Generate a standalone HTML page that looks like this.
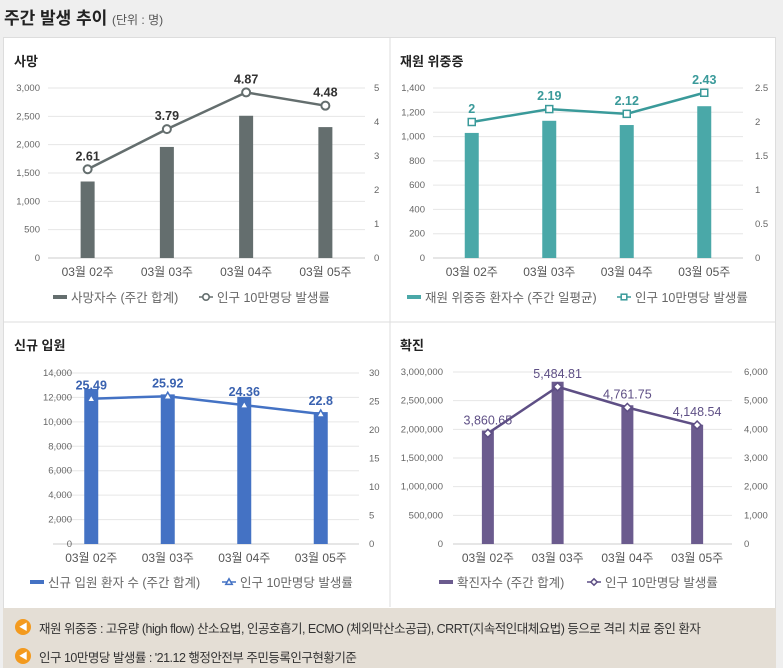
<!DOCTYPE html>
<html><head><meta charset="utf-8">
<style>
body{margin:0;width:783px;height:663px;overflow:hidden;background:#efefef;font-family:"Liberation Sans","Noto Sans CJK KR",sans-serif;position:relative}
.t{position:absolute;left:4px;top:4px;font-size:17px;font-weight:bold;color:#222}
.t span{font-size:12px;font-weight:normal;color:#555}
.box{position:absolute;left:3px;top:37px;width:771px;height:570px;background:#fff;border:1px solid #ddd}
.note{position:absolute;left:3px;top:608px;width:773px;height:60px;background:#e4ded5;font-size:12.5px;color:#333;letter-spacing:-0.5px}
.ic{position:absolute;left:12px;width:16px;height:16px;border-radius:50%;background:#f39a1e;color:#fff;font-size:9px;text-align:center;line-height:16px}
svg text{font-family:"Liberation Sans","Noto Sans CJK KR",sans-serif}
</style></head><body>
<div class="t">주간 발생 추이 <span>(단위 : 명)</span></div>
<div class="box"></div>
<svg id="s" width="783" height="663" style="position:absolute;left:0;top:0"></svg>
<div class="note">
<div class="ic" style="top:11px">◀</div>
<div style="position:absolute;left:36px;top:10px">재원 위중증 : 고유량 (high flow) 산소요법, 인공호흡기, ECMO (체외막산소공급), CRRT(지속적인대체요법) 등으로 격리 치료 중인 환자</div>
<div class="ic" style="top:40px">◀</div>
<div style="position:absolute;left:36px;top:39px">인구 10만명당 발생률 : '21.12 행정안전부 주민등록인구현황기준</div>
</div>
<script>
const categories=["03월 02주","03월 03주","03월 04주","03월 05주"];
const deathBars=[1350,1960,2510,2310];
const deathRate=[2.61,3.79,4.87,4.48];
const deathRateLabels=["2.61","3.79","4.87","4.48"];
const icuBars=[1030,1130,1095,1250];
const icuRate=[2,2.19,2.12,2.43];
const icuRateLabels=["2","2.19","2.12","2.43"];
const admBars=[12700,12250,12050,10800];
const admRate=[25.49,25.92,24.36,22.8];
const admRateLabels=["25.49","25.92","24.36","22.8"];
const caseBars=[1980000,2830000,2420000,2080000];
const caseRate=[3860.65,5484.81,4761.75,4148.54];
const caseRateLabels=["3,860.65","5,484.81","4,761.75","4,148.54"];
const deathLeftTicks=[0,500,1000,1500,2000,2500,3000];
const deathRightTicks=[0,1,2,3,4,5];
const icuLeftTicks=[0,200,400,600,800,1000,1200,1400];
const icuRightTicks=[0,0.5,1,1.5,2,2.5];
const admLeftTicks=[0,2000,4000,6000,8000,10000,12000,14000];
const admRightTicks=[0,5,10,15,20,25,30];
const caseLeftTicks=[0,500000,1000000,1500000,2000000,2500000,3000000];
const caseRightTicks=[0,1000,2000,3000,4000,5000,6000];
const NS="http://www.w3.org/2000/svg";
const svg=document.getElementById('s');
function mk(tag,attrs,parent){const e=document.createElementNS(NS,tag);for(const k in attrs)e.setAttribute(k,attrs[k]);(parent||svg).appendChild(e);return e;}
function fmt(v){return v.toLocaleString('en-US');}
mk('line',{x1:390,y1:38,x2:390,y2:607,stroke:'#ddd'});
mk('line',{x1:4,y1:322,x2:775,y2:322,stroke:'#ddd'});
function marker(type,x,y,c,g,s){
  s=s||1;
  if(type==='circle')return mk('circle',{cx:x,cy:y,r:4*s,fill:'#fff',stroke:c,'stroke-width':2*s},g);
  if(type==='square')return mk('rect',{x:x-3.5*s,y:y-3.5*s,width:7*s,height:7*s,fill:'#fff',stroke:c,'stroke-width':1.5},g);
  if(type==='tri')return mk('polygon',{points:`${x},${y-4*s} ${x-4*s},${y+3*s} ${x+4*s},${y+3*s}`,fill:'#fff',stroke:c,'stroke-width':1.5},g);
  return mk('polygon',{points:`${x},${y-4*s} ${x+4*s},${y} ${x},${y+4*s} ${x-4*s},${y}`,fill:'#fff',stroke:c,'stroke-width':1.5},g);
}
function chart(o){
  const g=mk('g',{});
  
  
  const t=mk('text',{x:o.tx,y:o.ty,'font-size':13,'font-weight':'bold',fill:'#222'},g);t.textContent=o.title;
  
  const lmax=o.lt[o.lt.length-1],rmax=o.rt[o.rt.length-1];
  const yL=v=>o.y0-(v/lmax)*(o.y0-o.y1);
  const yR=v=>o.y0-(v/rmax)*(o.y0-o.y1);
  const step=(o.px2-o.px1)/categories.length;
  const xC=i=>o.px1+step*(i+0.5);
  o.lt.forEach(v=>{
    mk('line',{x1:o.px1,x2:o.px2,y1:yL(v),y2:yL(v),stroke:v?'#e6e6e6':'#ccc'},g);
    const tt=mk('text',{x:o.lx,y:yL(v)+3,'font-size':9.5,fill:'#666','text-anchor':'end'},g);tt.textContent=fmt(v);
    
  });
  o.rt.forEach(v=>{const tt=mk('text',{x:o.rx,y:yR(v)+3,'font-size':9.5,fill:'#666'},g);tt.textContent=fmt(v);
    });
  categories.forEach((c,i)=>{const tt=mk('text',{x:xC(i),y:o.y0+18,'font-size':12,fill:'#555','text-anchor':'middle'},g);tt.textContent=c;
    });
  o.bars.forEach((v,i)=>{const r=mk('rect',{x:xC(i)-o.bw/2,y:yL(v),width:o.bw,height:o.y0-yL(v),fill:o.color},g);
    });
  const pts=o.rate.map((v,i)=>xC(i)+','+yR(v)).join(' ');
  mk('polyline',{points:pts,fill:'none',stroke:o.lc,'stroke-width':2.5},g);
  o.rate.forEach((v,i)=>{
    const m=marker(o.mk,xC(i),yR(v),o.lc,g);
    
    const tt=mk('text',{x:xC(i),y:yR(v)-9,'font-size':12.5,'font-weight':o.lblBold?'bold':'normal',fill:o.lblc,'text-anchor':'middle'},g);tt.textContent=o.labels[i];
    
  });
  const ly=o.ly;
  const lg=mk('g',{},g);
  mk('rect',{x:o.lgx,y:ly-3,width:14,height:4,fill:o.color},lg);
  const a=mk('text',{x:o.lgx+18,y:ly+4,'font-size':12.5,fill:'#666'},lg);a.textContent=o.lg1;
  const w=o.lg2x;
  mk('line',{x1:w,x2:w+14,y1:ly-1,y2:ly-1,stroke:o.lc,'stroke-width':1.5},lg);
  marker(o.mk,w+7,ly-1,o.lc,lg,0.8);
  const b=mk('text',{x:w+18,y:ly+4,'font-size':12.5,fill:'#666'},lg);b.textContent='인구 10만명당 발생률';
}
chart({name:'death-chart',title:'사망',tx:14,ty:66,lt:deathLeftTicks,rt:deathRightTicks,y0:258,y1:88,px1:48,px2:365,lx:40,rx:374,bars:deathBars,rate:deathRate,labels:deathRateLabels,bw:14,color:'#646e6e',lc:'#646e6e',lblc:'#333',lblBold:true,mk:'circle',ly:298,lgx:53,lg1:'사망자수 (주간 합계)',lg2x:199});
chart({name:'icu-chart',title:'재원 위중증',tx:400,ty:66,lt:icuLeftTicks,rt:icuRightTicks,y0:258,y1:88,px1:433,px2:743,lx:425,rx:755,bars:icuBars,rate:icuRate,labels:icuRateLabels,bw:14,color:'#4aa8a8',lc:'#3a9a9a',lblc:'#3a9a9a',lblBold:true,mk:'square',ly:298,lgx:407,lg1:'재원 위중증 환자수 (주간 일평균)',lg2x:617});
chart({name:'admission-chart',title:'신규 입원',tx:14,ty:350,lt:admLeftTicks,rt:admRightTicks,y0:544,y1:373,px1:53,px2:359,lx:72,rx:369,bars:admBars,rate:admRate,labels:admRateLabels,bw:14,color:'#4472c4',lc:'#4472c4',lblc:'#3a62b0',lblBold:true,mk:'tri',ly:583,lgx:30,lg1:'신규 입원 환자 수 (주간 합계)',lg2x:222});
chart({name:'cases-chart',title:'확진',tx:400,ty:350,lt:caseLeftTicks,rt:caseRightTicks,y0:544,y1:372,px1:453,px2:732,lx:443,rx:744,bars:caseBars,rate:caseRate,labels:caseRateLabels,bw:12,color:'#6b5b8e',lc:'#5e4f85',lblc:'#5e4f85',lblBold:false,mk:'diamond',ly:583,lgx:439,lg1:'확진자수 (주간 합계)',lg2x:587});
</script>
</body></html>
